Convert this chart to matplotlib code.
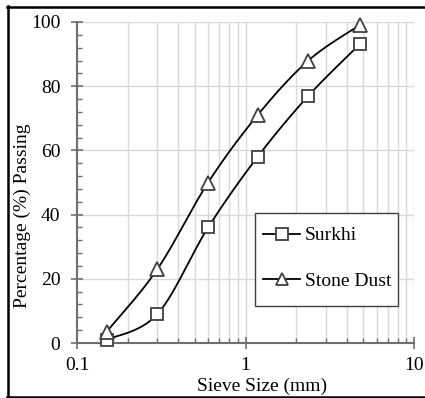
import numpy as np
import matplotlib
matplotlib.use("Agg")
import matplotlib.pyplot as plt
from matplotlib.ticker import LogLocator, FixedLocator, NullFormatter, FuncFormatter
from matplotlib.lines import Line2D
from matplotlib.patches import Rectangle

sieve_mm = [0.15, 0.3, 0.6, 1.18, 2.36, 4.75]
surkhi = [1, 9, 36, 58, 77, 93]
stone_dust = [3.5, 23, 50, 71, 88, 99]
series_names = ["Surkhi", "Stone Dust"]
x_ticks = [0.1, 1, 10]
x_tick_labels = ["0.1", "1", "10"]
y_ticks = [0, 20, 40, 60, 80, 100]

plt.rcParams['font.family'] = ['Liberation Serif', 'DejaVu Serif']
FS = 14

def smooth(xs, ys, n=30):
    # Excel-like smoothed line: cubic Bezier with Catmull-Rom control points in (log x, y)
    lx = np.log10(np.asarray(xs, float))
    yy = np.asarray(ys, float)
    P = np.column_stack([lx, yy])
    pts = []
    m = len(P)
    for i in range(m - 1):
        p0 = P[i - 1] if i > 0 else P[i]
        p1 = P[i]
        p2 = P[i + 1]
        p3 = P[i + 2] if i + 2 < m else P[i + 1]
        c1 = p1 + (p2 - p0) / 6.0
        c2 = p2 - (p3 - p1) / 6.0
        t = np.linspace(0, 1, n)[:, None]
        seg = ((1 - t) ** 3) * p1 + 3 * ((1 - t) ** 2) * t * c1 + 3 * (1 - t) * t ** 2 * c2 + t ** 3 * p2
        pts.append(seg if i == 0 else seg[1:])
    pts = np.vstack(pts)
    return 10 ** pts[:, 0], pts[:, 1]

W, H = 425, 398
fig = plt.figure(figsize=(W/100, H/100), dpi=100)
ax = fig.add_axes([77/W, 1 - 343/H, (414 - 77)/W, (343 - 22)/H])

ax.set_xscale('log')
ax.set_xlim(0.1, 10)
ax.set_ylim(0, 100)

ax.xaxis.set_major_locator(FixedLocator(x_ticks))
ax.xaxis.set_major_formatter(FuncFormatter(lambda v, p: x_tick_labels[x_ticks.index(v)] if v in x_ticks else ""))
ax.xaxis.set_minor_locator(LogLocator(base=10, subs=np.arange(2, 10), numticks=20))
ax.xaxis.set_minor_formatter(NullFormatter())
ax.yaxis.set_major_locator(FixedLocator(y_ticks))
ax.yaxis.set_minor_locator(FixedLocator(np.arange(0, 101, 4)))

grid_c = '#d9d9d9'
ax.grid(True, which='major', color=grid_c, lw=1.0)
ax.grid(True, which='minor', axis='x', color=grid_c, lw=1.0)
ax.set_axisbelow(True)

for s in ['top', 'right']:
    ax.spines[s].set_visible(False)
for s in ['left', 'bottom']:
    ax.spines[s].set_color('#6f6f6f')
    ax.spines[s].set_linewidth(1.5)

ax.tick_params(which='major', direction='inout', length=8, width=1.2, color='#6f6f6f',
               labelsize=FS)
ax.tick_params(which='minor', direction='in', length=3.6, width=1.0, color='#6f6f6f')
ax.tick_params(axis='x', which='major', pad=6)
ax.tick_params(axis='y', which='major', pad=8)

edge = '#404040'
data = [surkhi, stone_dust]
markers = ['s', '^']
handles = []
for vals, mk, name in zip(data, markers, series_names):
    sx, sy = smooth(sieve_mm, vals)
    ax.plot(sx, sy, color='black', lw=1.3, zorder=3)
    ax.plot(sieve_mm, vals, ls='none', marker=mk, ms=9 if mk == 's' else 9.5, mfc='white',
            mec=edge, mew=1.3, zorder=4, clip_on=False)
    handles.append(Line2D([], [], color='black', lw=1.3, marker=mk, ms=8 if mk == 's' else 8.5,
                          mfc='white', mec=edge, mew=1.3))

# legend box drawn manually (pixel extents), legend content centered inside
bx0, bx1, by0, by1 = 255, 398, 213, 306
box = Rectangle((bx0/W, 1 - by1/H), (bx1 - bx0)/W, (by1 - by0)/H, transform=fig.transFigure,
                facecolor='white', edgecolor='#404040', lw=1.0, zorder=5)
fig.add_artist(box)
leg = fig.legend(handles, series_names, loc='center',
                 bbox_to_anchor=((bx0 + bx1)/2/W + 1/W, 1 - (by0 + by1)/2/H + 1/H),
                 frameon=False, fontsize=FS,
                 handlelength=1.9, handletextpad=0.25, labelspacing=1.45, borderpad=0)
leg.set_zorder(6)

fig.text(262/W, 1 - 386/H, "Sieve Size (mm)", ha='center', va='center', fontsize=FS)
fig.text(22/W, 1 - 216/H, "Percentage (%) Passing", ha='center', va='center',
         rotation=90, fontsize=FS)

# outer frame
for (x0, y0, x1, y1) in [(7.5, 6, 7.5, 397), (7, 6.5, 425, 6.5), (7, 396.5, 425, 396.5)]:
    fig.add_artist(Line2D([x0/W, x1/W], [1 - y0/H, 1 - y1/H], color='black', lw=1.8,
                          transform=fig.transFigure))

fig.savefig('out.png', dpi=100)
